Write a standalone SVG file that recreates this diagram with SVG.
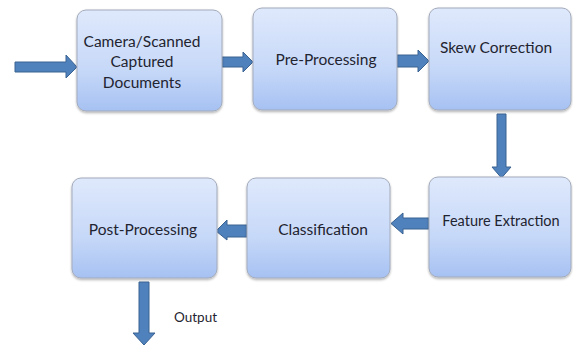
<svg xmlns="http://www.w3.org/2000/svg" width="573" height="345" viewBox="0 0 573 345">
<defs>
<linearGradient id="g" x1="0" y1="0" x2="0" y2="1">
<stop offset="0" stop-color="#dfe9fc"/>
<stop offset="0.6" stop-color="#c6d8f8"/>
<stop offset="1" stop-color="#a6c1f2"/>
</linearGradient>
<filter id="sh" x="-10%" y="-10%" width="120%" height="125%">
<feDropShadow dx="0" dy="1.5" stdDeviation="1.2" flood-color="#000" flood-opacity="0.3"/>
</filter>
</defs>
<style>
.box{fill:url(#g);stroke:#a3abbb;stroke-width:1;filter:url(#sh)}
.t{font-family:Lato,"Open Sans","Liberation Sans",sans-serif;font-size:15.5px;fill:#1f2430;text-anchor:middle}
.a{fill:#4f81bd;stroke:#3a6291;stroke-width:1}
.o{font-family:Lato,"Liberation Sans",sans-serif;font-size:13.5px;fill:#1f2430}
</style>
<rect width="573" height="345" fill="#ffffff"/>
<g id="connectors">
<polygon class="a" points="15,62 66,62 66,55 77,67 66,78 66,72 15,72"/>
<polygon class="a" points="222,57 243,57 243,52 253,62 243,72 243,67 222,67"/>
<polygon class="a" points="397,55 418,55 418,50 429,61 418,72 418,67 397,67"/>
<polygon class="a" points="497,114 506,114 506,167 511,167 501.5,178 492,167 497,167"/>
<polygon class="a" points="429,218 403,218 403,213 391,223.5 403,234 403,229 429,229"/>
<polygon class="a" points="247,225 227,225 227,220 216,231 227,240 227,237 247,237"/>
<polygon class="a" points="139,282 149,282 149,333 155,333 144,345 133,333 139,333"/>
</g>
<g id="n1"><rect class="box" x="77" y="10" width="145" height="101" rx="9"/>
<text class="t" x="142" y="47">Camera/Scanned</text>
<text class="t" x="142" y="67">Captured</text>
<text class="t" x="142" y="88">Documents</text></g>
<g id="n2"><rect class="box" x="253" y="8" width="144" height="102" rx="9"/>
<text class="t" x="326" y="65">Pre-Processing</text></g>
<g id="n3"><rect class="box" x="429" y="8" width="142" height="102" rx="9"/>
<text class="t" x="496" y="53">Skew Correction</text></g>
<g id="n4"><rect class="box" x="429" y="177" width="142" height="100" rx="9"/>
<text class="t" x="501" y="226" style="font-size:14.5px">Feature Extraction</text></g>
<g id="n5"><rect class="box" x="247" y="178" width="143" height="100" rx="9"/>
<text class="t" x="323" y="235">Classification</text></g>
<g id="n6"><rect class="box" x="72" y="178" width="145" height="100" rx="9"/>
<text class="t" x="143" y="235">Post-Processing</text></g>
<text class="o" x="174" y="322">Output</text>
</svg>
